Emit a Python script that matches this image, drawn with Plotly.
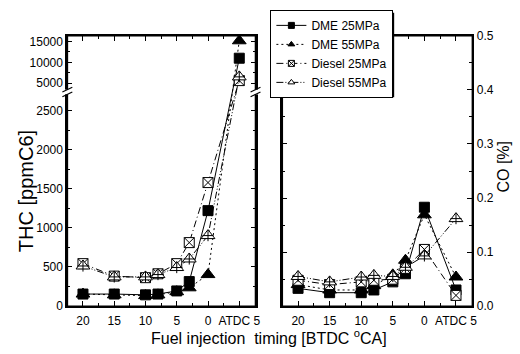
import plotly.graph_objects as go

# ---------------- data ----------------
timing = [20, 15, 10, 8, 5, 3, 0, -5]          # BTDC positive, ATDC negative
x_tick_vals = [20, 15, 10, 5, 0, -5]
x_tick_text = ["20", "15", "10", "5", "0", "ATDC 5"]

series_names = ["DME 25MPa", "DME 55MPa", "Diesel 25MPa", "Diesel 55MPa"]

thc_dme25 = [150, 150, 140, 150, 190, 310, 1220, 11000]
thc_dme55 = [150, 140, 130, 140, 180, 230, 400, 15200]
thc_diesel25 = [540, 380, 360, 410, 540, 810, 1580, 5600]
thc_diesel55 = [510, 370, 370, 400, 490, 600, 900, 6500]

co_dme25 = [0.033, 0.025, 0.025, 0.030, 0.045, 0.060, 0.183, 0.030]
co_dme55 = [0.040, 0.030, 0.030, 0.038, 0.058, 0.085, 0.169, 0.054]
co_diesel25 = [0.048, 0.040, 0.045, 0.048, 0.050, 0.070, 0.105, 0.020]
co_diesel55 = [0.055, 0.045, 0.054, 0.057, 0.055, 0.072, 0.093, 0.162]

thc_low_ticks = [0, 500, 1000, 1500, 2000, 2500]
thc_low_minor = [250, 750, 1250, 1750, 2250]
thc_high_ticks = [5000, 10000, 15000]
thc_high_minor = [7500, 12500]
co_ticks = [0.0, 0.1, 0.2, 0.3, 0.4, 0.5]

# ---------------- broken THC axis (Origin-style break) ----------------
BREAK = 2743          # top of lower segment (ppm)
UP_REF = 5000         # reference value of the upper segment
UP_POS = 2856         # axis position of UP_REF
UP_SCALE = 0.0532     # compression of the upper segment


def thc_axis(v):
    return v if v <= BREAK else UP_POS + (v - UP_REF) * UP_SCALE


W, H = 520, 354


def px_x(p):
    return p / W


def px_y(p):
    return (H - p) / H


thc_all = [thc_dme25, thc_dme55, thc_diesel25, thc_diesel55]
co_all = [co_dme25, co_dme55, co_diesel25, co_diesel55]

styles = [
    dict(dash="solid", symbol="square", size=10, fill="black"),
    dict(dash="2px,3px", symbol="triangle-up", size=12, fill="black"),
    dict(dash="7px,3px,1px,3px", symbol="square-x", size=10, fill="white"),
    dict(dash="7px,2px,1px,2px,1px,2px", symbol="triangle-up", size=12, fill="white"),
]

fig = go.Figure()

for i, name in enumerate(series_names):
    st = styles[i]
    marker = dict(symbol=st["symbol"], size=st["size"], color=st["fill"],
                  line=dict(color="black", width=1))
    line = dict(color="black", width=1, dash=st["dash"])
    # legend-only entry with small symbol, like the reference key
    fig.add_trace(go.Scatter(
        x=[None], y=[None], mode="lines+markers", name=name,
        marker=dict(symbol=st["symbol"], size=6, color=st["fill"],
                    line=dict(color="black", width=1)),
        line=line, xaxis="x", yaxis="y", legendrank=i + 1, hoverinfo="skip"))
    fig.add_trace(go.Scatter(
        x=timing, y=[thc_axis(v) for v in thc_all[i]], mode="lines+markers",
        name=name, marker=marker, line=line, xaxis="x", yaxis="y",
        showlegend=False, customdata=thc_all[i],
        hovertemplate="%{x}: %{customdata}<extra>" + name + "</extra>"))
    fig.add_trace(go.Scatter(
        x=timing, y=co_all[i], mode="lines+markers", name=name,
        marker=marker, line=line, xaxis="x2", yaxis="y2", showlegend=False))
    if i == 3:
        cross = dict(symbol="cross-thin", size=8, color="black",
                     line=dict(color="black", width=1))
        fig.add_trace(go.Scatter(x=timing, y=[thc_axis(v) for v in thc_all[i]],
                                 mode="markers", marker=cross, xaxis="x", yaxis="y",
                                 showlegend=False, hoverinfo="skip"))
        fig.add_trace(go.Scatter(x=timing, y=co_all[i], mode="markers", marker=cross,
                                 xaxis="x2", yaxis="y2", showlegend=False,
                                 hoverinfo="skip"))

FONT = "Liberation Sans, Arial, sans-serif"
tickfont = dict(family=FONT, size=12, color="black")
LW = 2

xcommon = dict(range=[22.5, -7.6], tickmode="array", tickvals=x_tick_vals,
               ticktext=x_tick_text, ticks="inside", ticklen=5, tickwidth=1,
               tickcolor="black", showline=True, linecolor="black", linewidth=LW,
               mirror="allticks", showgrid=False, zeroline=False, tickfont=tickfont,
               ticklabelstandoff=2,
               minor=dict(tickmode="linear", tick0=0, dtick=2.5, ticks="inside",
                          ticklen=3, tickcolor="black", tickwidth=1))

y_top_px, y_bot_px = 30, 311.7
ydom = [px_y(y_bot_px), px_y(y_top_px)]

thc_axis_ticks = thc_low_ticks + thc_high_ticks

fig.update_layout(
    width=W, height=H, autosize=False,
    margin=dict(l=0, r=0, t=0, b=0),
    paper_bgcolor="white", plot_bgcolor="white",
    font=dict(family=FONT, color="black"),
    xaxis=dict(domain=[px_x(68), px_x(258)], anchor="y", **xcommon),
    xaxis2=dict(domain=[px_x(285), px_x(477)], anchor="y2", **xcommon),
    yaxis=dict(domain=ydom, anchor="x", range=[-8, (y_bot_px - y_top_px) / 0.08136],
               tickmode="array",
               tickvals=[thc_axis(v) for v in thc_axis_ticks],
               ticktext=[str(v) for v in thc_axis_ticks],
               ticks="inside", ticklen=5, tickwidth=1, tickcolor="black",
               showline=True, linecolor="black", linewidth=LW, mirror="allticks",
               showgrid=False, zeroline=False, tickfont=tickfont,
               minor=dict(tickmode="array",
                          tickvals=thc_low_minor + [thc_axis(v) for v in thc_high_minor],
                          ticks="inside", ticklen=3, tickcolor="black", tickwidth=1)),
    yaxis2=dict(domain=ydom, anchor="x2", side="right", range=[-0.0003, 0.5],
                tickmode="array", tickvals=co_ticks,
                ticktext=["%.1f" % v for v in co_ticks],
                ticks="inside", ticklen=5, tickwidth=1, tickcolor="black",
                showline=True, linecolor="black", linewidth=LW, mirror="allticks",
                showgrid=False, zeroline=False, tickfont=tickfont,
                minor=dict(tickmode="linear", tick0=0, dtick=0.05, ticks="inside",
                           ticklen=3, tickcolor="black", tickwidth=1)),
    legend=dict(x=px_x(273), y=px_y(3), xanchor="left", yanchor="top",
                bgcolor="white", bordercolor="black", borderwidth=1,
                font=dict(family=FONT, size=12, color="black"),
                tracegroupgap=0, itemwidth=30),
    showlegend=True,
)

# axis titles
fig.add_annotation(text="Fuel injection&nbsp; timing [BTDC <sup>o</sup>CA]",
                   x=px_x(272), y=px_y(344), xref="paper", yref="paper",
                   xanchor="center", yanchor="middle",
                   showarrow=False, font=dict(family=FONT, size=16, color="black"))
fig.add_annotation(text="THC [ppmC6]", textangle=-90, x=px_x(27), y=px_y(192),
                   xref="paper", yref="paper", xanchor="center", yanchor="middle",
                   showarrow=False, font=dict(family=FONT, size=20, color="black"))
fig.add_annotation(text="CO [%]", textangle=-90, x=px_x(508), y=px_y(166),
                   xref="paper", yref="paper", xanchor="center", yanchor="middle",
                   showarrow=False, font=dict(family=FONT, size=16, color="black"))

shapes = []
# plot frames
for xr, yr in (("x domain", "y domain"), ("x2 domain", "y2 domain")):
    shapes.append(dict(type="rect", xref=xr, yref=yr, x0=0, x1=1, y0=0, y1=1,
                       line=dict(color="black", width=1.6), layer="above"))
# axis break marks on the THC panel
for ax_x in (68, 258):
    shapes.append(dict(type="rect", xref="paper", yref="paper",
                       x0=px_x(ax_x - 2.5), x1=px_x(ax_x + 2.5),
                       y0=px_y(91), y1=px_y(86), fillcolor="white",
                       line=dict(width=0), layer="above"))
    for yy in (86, 91):
        shapes.append(dict(type="line", xref="paper", yref="paper",
                           x0=px_x(ax_x - 5), y0=px_y(yy + 2.5),
                           x1=px_x(ax_x + 5), y1=px_y(yy - 2.5),
                           line=dict(color="black", width=1.2), layer="above"))
# legend shadow
shapes.append(dict(type="rect", xref="paper", yref="paper",
                   x0=px_x(276), x1=px_x(398), y0=px_y(94), y1=px_y(6),
                   fillcolor="black", line=dict(width=0), layer="above"))
fig.update_layout(shapes=shapes)

fig.write_html("out.html")
